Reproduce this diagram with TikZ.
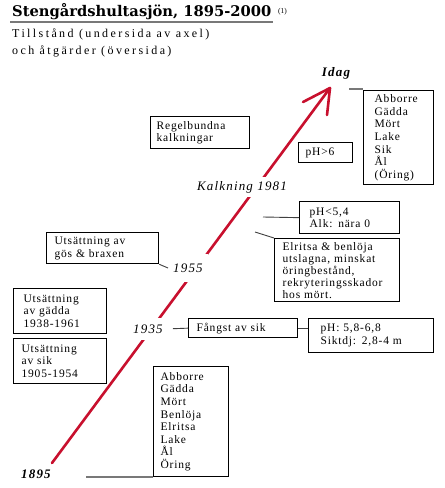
\documentclass[tikz,border=0pt]{standalone}
\usepackage{fontspec}
\setmainfont{Liberation Serif}
\newfontfamily\titlef{DejaVu Serif}
\newfontfamily\subf[LetterSpace=20]{Liberation Serif}
\newfontfamily\boxf[LetterSpace=7]{Liberation Serif}
\newfontfamily\labf[LetterSpace=9]{Liberation Serif}
\definecolor{axisred}{RGB}{200,16,46}
\definecolor{linegray}{RGB}{120,120,120}
\begin{document}
\begin{tikzpicture}[x=1pt,y=-1pt,
  box/.style={draw, line width=1.3pt, anchor=north west, align=left, inner ysep=0pt,
              font=\boxf\fontsize{11.5}{12.6}\selectfont},
  yearlab/.style={font=\labf\itshape\fontsize{13}{14}\selectfont, fill=white, inner xsep=2pt},
  conn/.style={draw=black!75, line width=0.9pt},
  gconn/.style={draw=linegray, line width=1.2pt},
  axis/.style={draw=axisred, line width=2.6pt, line cap=round}]
\useasboundingbox (0,0) rectangle (445,488);
\fill[white] (0,0) rectangle (445,488);

% title
\node[anchor=base west, inner sep=0pt, font=\titlef\bfseries\fontsize{14.7}{16}\selectfont] (title) at (12,16.7) {Stengårdshultasjön, 1895-2000};
\node[anchor=base west, inner sep=0pt, font=\fontsize{7.5}{9}\selectfont] (sup) at (278,13) {(1)};
\draw[draw=linegray, line width=2pt] (10,21.5) -- (273,21.5);
\node[anchor=base west, inner sep=0pt, font=\subf\fontsize{12}{14}\selectfont] (sub1) at (12,37.5) {Tillstånd (undersida av axel)};
\node[anchor=base west, inner sep=0pt, font=\subf\fontsize{12}{14}\selectfont] (sub2) at (12,54) {och åtgärder (översida)};

% axis
\coordinate (a0) at (52,463);
\coordinate (tip) at (330,88);
\draw[axis] (a0) -- (tip);
\draw[axis] (tip) -- ++(-27,14);
\draw[axis] (tip) -- ++(-3,27);

% year labels
\node[font=\labf\bfseries\itshape\fontsize{13}{14}\selectfont] (y1895) at (36,474) {1895};
\node[yearlab, inner ysep=7pt] (y1935) at (148,329) {1935};
\node[yearlab, inner ysep=10pt, inner xsep=5pt] (y1955) at (188,268) {1955};
\node[yearlab, inner ysep=4.5pt] (k1981) at (242,187) {Kalkning 1981};
\node[font=\labf\bfseries\itshape\fontsize{13}{14}\selectfont] (idag) at (336,73) {Idag};

% boxes
\node[box, inner xsep=11pt, text width=48pt, minimum height=94pt] (fishtop) at (363,90)
  {Abborre\\Gädda\\Mört\\Lake\\Sik\\Ål\\(Öring)};
\node[box, inner xsep=6pt, text width=87pt, minimum height=32pt] (regel) at (150,116)
  {Regelbundna\\kalkningar};
\node[box, inner xsep=7pt, text width=40pt, minimum height=20pt] (ph6) at (298,142)
  {pH>6};
\node[box, inner xsep=10pt, text width=80pt, minimum height=32pt] (ph54) at (299,201)
  {pH<5,4\\Alk: nära 0};
\node[box, inner xsep=8pt, text width=109pt, minimum height=63pt, font=\boxf\fontsize{11.5}{12}\selectfont] (elritsa) at (274,238)
  {Elritsa \& benlöja\\utslagna, minskat\\öringbestånd,\\rekryteringsskador\\hos mört.};
\node[box, inner xsep=8pt, text width=96pt, minimum height=31pt] (gos) at (46,232)
  {Utsättning av\\gös \& braxen};
\node[box, inner xsep=10pt, text width=73pt, minimum height=45pt] (gadda) at (13,288)
  {Utsättning\\av gädda\\1938-1961};
\node[box, inner xsep=8pt, text width=77pt, minimum height=45pt] (siksat) at (13,338)
  {Utsättning\\av sik\\1905-1954};
\node[box, inner xsep=8pt, text width=93pt, minimum height=19pt] (fangst) at (188,318)
  {Fångst av sik};
\node[box, inner xsep=12pt, text width=101pt, minimum height=34pt] (phsikt) at (308,318)
  {pH: 5,8-6,8\\Siktdj: 2,8-4 m};
\node[box, inner xsep=7pt, text width=61pt, minimum height=110pt] (fishbot) at (153,366)
  {Abborre\\Gädda\\Mört\\Benlöja\\Elritsa\\Lake\\Ål\\Öring};

% connectors
\coordinate (cidag) at (349,89);
\draw[gconn] (cidag) -- (cidag -| fishtop.west);
\coordinate (cph) at (263,217);
\draw[conn] (cph) -- (ph54.west);
\coordinate (cel) at (255,232);
\draw[conn] (cel) -- (elritsa.north west);
\draw[conn] (gos.south east) -- (y1955.west);
\draw[conn, shorten <=8pt] (y1935.east) -- (fangst.west);
\draw[conn] (fangst.east) -- (fangst.east -| phsikt.west);
\coordinate (c95) at (86,477);
\draw[gconn] (c95) -- (c95 -| fishbot.west);
\end{tikzpicture}
\end{document}
